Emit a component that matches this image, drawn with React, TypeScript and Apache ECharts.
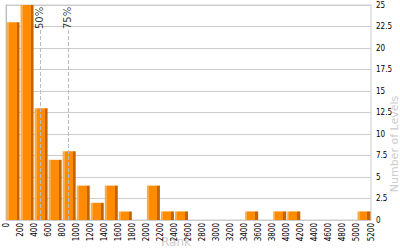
import React, { useEffect, useRef } from "react";
import * as echarts from "echarts";

const binStarts = [0, 200, 400, 600, 800, 1000, 1200, 1400, 1600, 1800, 2000, 2200, 2400, 2600, 2800, 3000, 3200, 3400, 3600, 3800, 4000, 4200, 4400, 4600, 4800, 5000];
const counts = [23, 25, 13, 7, 8, 4, 2, 4, 1, 0, 4, 1, 1, 0, 0, 0, 0, 1, 0, 1, 1, 0, 0, 0, 0, 1];
const binWidth = 200;
const percentiles = [
  { name: "50%", rank: 484 },
  { name: "75%", rank: 883 },
];

export default function App() {
  const ref = useRef<HTMLDivElement>(null);
  useEffect(() => {
    if (!ref.current) return;
    const chart = echarts.init(ref.current, null, { renderer: "svg" });
    const barColor = new echarts.graphic.LinearGradient(0, 0, 1, 0, [
      { offset: 0, color: "#ffab45" },
      { offset: 0.16, color: "#ffab45" },
      { offset: 0.16, color: "#ff8c00" },
      { offset: 0.77, color: "#ff8c00" },
      { offset: 0.77, color: "#c46400" },
      { offset: 1, color: "#c46400" },
    ]);
    const labelFont = "'Liberation Sans Narrow', 'DejaVu Sans Condensed', sans-serif";
    chart.setOption({
      animation: false,
      grid: { left: 6, right: 29, top: 5, bottom: 30, show: true, borderColor: "#cccccc", borderWidth: 1, backgroundColor: "transparent" },
      xAxis: {
        type: "value",
        min: 0,
        max: 5200,
        interval: 200,
        axisLine: { show: true, lineStyle: { color: "#cccccc" } },
        axisTick: { show: false },
        splitLine: { show: false },
        axisLabel: { rotate: 90, fontSize: 8, color: "#000", fontFamily: labelFont, margin: 3, hideOverlap: false, formatter: (v: number) => String(v) },
      },
      yAxis: {
        type: "value",
        position: "right",
        min: 0,
        max: 25,
        interval: 2.5,
        axisLine: { show: true, lineStyle: { color: "#bbbbbb" } },
        axisTick: { show: false },
        splitLine: { show: true, lineStyle: { color: "#cccccc", width: 1 } },
        axisLabel: { fontSize: 8, color: "#000", fontFamily: labelFont, margin: 5, formatter: (v: number) => String(v) },
      },
      series: [
        {
          type: "bar",
          data: binStarts.map((s, i) => [s + binWidth / 2, counts[i]]),
          barWidth: 13,
          itemStyle: { color: barColor },
          markLine: {
            silent: true,
            symbol: "none",
            lineStyle: { type: "dashed", color: "#bbbbbb", width: 1 },
            label: { show: false },
            data: percentiles.map((p) => [
              { coord: [p.rank, 0] },
              { coord: [p.rank, 22.1] },
            ]),
          },
          z: 3,
        },
        {
          type: "scatter",
          symbolSize: 0,
          data: percentiles.map((p) => ({ value: [p.rank, 23.5], name: p.name })),
          label: {
            show: true,
            position: "inside",
            rotate: 90,
            formatter: (d: any) => d.name,
            fontSize: 10,
            color: "#000000",
            textBorderWidth: 0,
            textBorderColor: "transparent",
            fontFamily: "'DejaVu Sans', sans-serif",
          },
        },
      ],
      graphic: [
        {
          type: "text",
          x: 176,
          y: 242,
          style: { text: "Rank", fill: "#cccccc", font: "12px 'DejaVu Sans', sans-serif", textAlign: "center", textVerticalAlign: "middle" },
        },
        {
          type: "text",
          x: 394,
          y: 144,
          rotation: Math.PI / 2,
          style: { text: "Number of Levels", fill: "#cccccc", font: "11px 'DejaVu Sans', sans-serif", textAlign: "center", textVerticalAlign: "middle" },
        },
      ],
    });
    return () => chart.dispose();
  }, []);
  return <div ref={ref} style={{ width: 400, height: 250, position: "absolute", left: 0, top: 0 }} />;
}
